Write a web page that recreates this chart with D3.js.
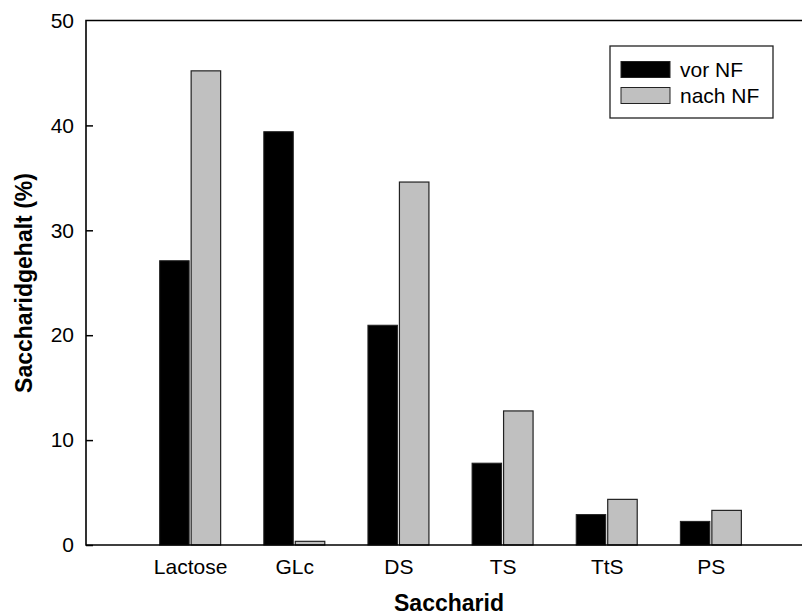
<!DOCTYPE html>
<html>
<head>
<meta charset="utf-8">
<script src="https://cdn.jsdelivr.net/npm/d3@7"></script>
<style>
  body { margin: 0; background: #fff; }
  text { font-family: "Liberation Sans", Arial, sans-serif; fill: #000; }
</style>
</head>
<body>
<svg id="chart" width="802" height="616"></svg>
<script>
// data
const categories = ["Lactose", "GLc", "DS", "TS", "TtS", "PS"];
const seriesNames = ["vor NF", "nach NF"];
const vorNF = [27.1, 39.4, 20.95, 7.8, 2.9, 2.25];
const nachNF = [45.2, 0.35, 34.6, 12.78, 4.35, 3.3];
const yTicks = [0, 10, 20, 30, 40, 50];
const colors = ["#000000", "#c0c0c0"];

const svg = d3.select("#chart");

// plot area (frame runs past the right edge of the picture)
const plotLeft = 86, plotRight = 815, plotTop = 20.5, plotBottom = 545;

// categories sit at positions 1..6 on a 0..7 axis
const x = d3.scaleLinear().domain([0, 7]).range([plotLeft, plotRight]);
const y = d3.scaleLinear().domain([0, 50]).range([plotBottom, plotTop]);

const barW = 29.5, gap = 2;

const groups = svg.selectAll("g.cat")
    .data(categories)
    .enter()
    .append("g")
    .attr("class", "cat");

// black bars (vor NF)
groups.append("rect")
    .attr("x", (d, i) => x(i + 1) - barW - gap / 2)
    .attr("y", (d, i) => y(vorNF[i]))
    .attr("width", barW)
    .attr("height", (d, i) => y(0) - y(vorNF[i]))
    .attr("fill", colors[0])
    .attr("stroke", "#222")
    .attr("stroke-width", 1);

// grey bars (nach NF)
groups.append("rect")
    .attr("x", (d, i) => x(i + 1) + gap / 2)
    .attr("y", (d, i) => y(nachNF[i]))
    .attr("width", barW)
    .attr("height", (d, i) => y(0) - y(nachNF[i]))
    .attr("fill", colors[1])
    .attr("stroke", "#222")
    .attr("stroke-width", 1.2);

// frame: top and left lines, bottom axis
svg.append("path")
    .attr("d", "M" + plotRight + "," + plotTop + "H" + plotLeft + "V" + plotBottom + "H" + plotRight)
    .attr("fill", "none")
    .attr("stroke", "#000")
    .attr("stroke-width", 1.6);

// y axis ticks point inward
const yAxis = d3.axisLeft(y)
    .tickValues(yTicks)
    .tickSizeInner(-7)
    .tickSizeOuter(0)
    .tickPadding(13);

const yg = svg.append("g")
    .attr("transform", "translate(" + plotLeft + ",0)")
    .call(yAxis);
yg.select(".domain").remove();
yg.selectAll(".tick line").attr("stroke", "#000").attr("stroke-width", 1.5);
yg.selectAll(".tick text")
    .attr("x", -12)
    .style("font-size", "21px")
    .style("font-family", "'Liberation Sans', Arial, sans-serif")
    .attr("fill", "#000");
// the top tick (50) sits on the frame line
yg.selectAll(".tick").filter(d => d === 50).select("line").remove();

// x axis: labels only
const xAxis = d3.axisBottom(x)
    .tickValues(categories.map((d, i) => i + 1))
    .tickFormat((d) => categories[d - 1])
    .tickSize(0)
    .tickPadding(14);

const xg = svg.append("g")
    .attr("transform", "translate(0," + plotBottom + ")")
    .call(xAxis);
xg.select(".domain").remove();
xg.selectAll(".tick text")
    .style("font-size", "21px")
    .style("font-family", "'Liberation Sans', Arial, sans-serif")
    .attr("fill", "#000");

// axis titles
svg.append("text")
    .attr("x", 449)
    .attr("y", 611)
    .attr("text-anchor", "middle")
    .style("font-size", "23px")
    .style("font-weight", "bold")
    .text("Saccharid");

svg.append("text")
    .attr("transform", "translate(32,283) rotate(-90)")
    .attr("text-anchor", "middle")
    .style("font-size", "23px")
    .style("font-weight", "bold")
    .text("Saccharidgehalt (%)");

// legend
const legend = svg.append("g").attr("transform", "translate(610,46)");
legend.append("rect")
    .attr("width", 163)
    .attr("height", 72)
    .attr("fill", "#fff")
    .attr("stroke", "#222")
    .attr("stroke-width", 1.3);

const items = legend.selectAll("g.item")
    .data(seriesNames)
    .enter()
    .append("g")
    .attr("class", "item")
    .attr("transform", (d, i) => "translate(0," + (i * 26) + ")");

items.append("rect")
    .attr("x", 11)
    .attr("y", 15.5)
    .attr("width", 49)
    .attr("height", 16)
    .attr("fill", (d, i) => colors[i])
    .attr("stroke", "#222")
    .attr("stroke-width", 1);

items.append("text")
    .attr("x", 70)
    .attr("y", 31)
    .style("font-size", "21px")
    .text(d => d);
</script>
</body>
</html>
